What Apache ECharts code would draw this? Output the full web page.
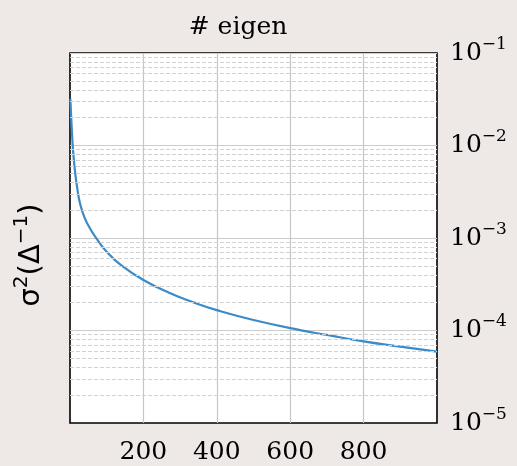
<!DOCTYPE html>
<html>
<head>
<meta charset="utf-8">
<script src="https://cdn.jsdelivr.net/npm/echarts@6/dist/echarts.min.js"></script>
<style>
html,body{margin:0;padding:0;background:#eee8e7;}
#c{width:517px;height:466px;}
</style>
</head>
<body>
<div id="c"></div>
<script>
// eigen index (x) and variance values
var eigenIndex = [1, 2, 3, 4, 5, 6, 7.4, 10, 14, 20, 28, 40, 55, 72, 100, 140, 200, 270, 340, 400, 500, 630, 700, 800, 900, 1000];
var variance = [0.032, 0.026, 0.021, 0.0175, 0.0148, 0.0125, 0.0100, 0.0074, 0.0051, 0.0034, 0.0023, 0.00165, 0.00126, 0.00099, 0.00071, 0.000505, 0.000352, 0.000256, 0.000199, 0.000166, 0.000130, 0.0001005, 0.0000895, 0.0000762, 0.0000668, 0.0000590];
var xTicks = [200, 400, 600, 800];
var yDecades = [1e-5, 1e-4, 1e-3, 1e-2, 1e-1];
var minorMultipliers = [2, 3, 4, 5, 6, 7, 8, 9];

var minorLines = [];
for (var d = 0; d < yDecades.length - 1; d++) {
  for (var k = 0; k < minorMultipliers.length; k++) {
    minorLines.push({ yAxis: minorMultipliers[k] * yDecades[d] });
  }
}

var serif = 'DejaVu Serif';
var chart = echarts.init(document.getElementById('c'));
chart.setOption({
  animation: false,
  backgroundColor: '#eee8e7',
  grid: {
    left: 70, right: 80, top: 53, bottom: 43,
    show: true, backgroundColor: '#ffffff', borderColor: '#000000', borderWidth: 1.6
  },
  graphic: [
    { type: 'text', x: 238, y: 27, style: { text: '# eigen', font: '25px "DejaVu Serif"', fill: '#000', textAlign: 'center', textVerticalAlign: 'middle' } },
    { type: 'text', x: 31, y: 255, rotation: Math.PI / 2,
      style: {
        text: '{b|σ}{s|2}{b|(Δ}{s|−1}{b|)}',
        textAlign: 'center', textVerticalAlign: 'middle', fill: '#000',
        rich: {
          b: { fontFamily: 'DejaVu Sans', fontSize: 29, lineHeight: 38, fill: '#000', color: '#000' },
          s: { fontFamily: 'DejaVu Sans', fontSize: 20, lineHeight: 20, verticalAlign: 'top', fill: '#000', color: '#000' }
        }
      }
    }
  ],
  xAxis: {
    type: 'value', min: 0, max: 1000, interval: 200,
    axisLine: { show: false }, axisTick: { show: false },
    axisLabel: {
      margin: 17, fontFamily: serif, fontSize: 25, color: '#000',
      formatter: function (v) { return xTicks.indexOf(v) >= 0 ? String(v) : ''; }
    },
    splitLine: { show: true, showMinLine: false, showMaxLine: false, lineStyle: { color: '#c6c6c6', width: 1.2 } }
  },
  yAxis: {
    type: 'log', logBase: 10, min: 1e-5, max: 1e-1, position: 'right', splitNumber: 4,
    axisLine: { show: false }, axisTick: { show: false },
    axisLabel: {
      margin: 13,
      formatter: function (v) {
        var e = Math.round(Math.log10(v));
        return '{b|10}{s|−' + (-e) + '}';
      },
      rich: {
        b: { fontFamily: serif, fontSize: 25, lineHeight: 34, color: '#000' },
        s: { fontFamily: serif, fontSize: 17, lineHeight: 17, verticalAlign: 'top', color: '#000' }
      }
    },
    splitLine: { show: true, showMinLine: false, showMaxLine: false, lineStyle: { color: '#cccccc', width: 1.2 } }
  },
  series: [
    {
      type: 'line', data: [], z: 1, silent: true,
      markLine: {
        silent: true, symbol: 'none', precision: 20, label: { show: false },
        lineStyle: { color: '#d2d2d2', type: [4, 2], width: 1 },
        data: minorLines
      }
    },
    {
      type: 'line', z: 3, showSymbol: false, smooth: 0.5,
      data: eigenIndex.map(function (x, i) { return [x, variance[i]]; }),
      lineStyle: { color: '#3b8bc8', width: 2.2 }
    }
  ]
});
</script>
</body>
</html>
